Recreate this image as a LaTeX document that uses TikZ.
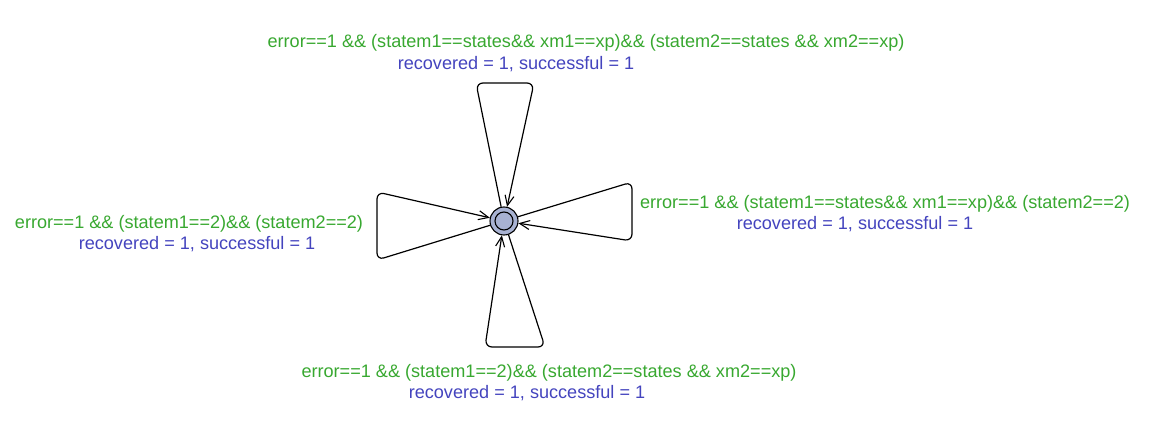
\documentclass[tikz,border=0pt]{standalone}
\usepackage{fontspec}
\setmainfont{Liberation Sans}
\usepackage{xcolor}
\definecolor{guard-green}{RGB}{56,168,48}
\definecolor{update-blue}{RGB}{68,68,190}
\definecolor{loc-fill}{RGB}{168,178,210}
\usetikzlibrary{arrows.meta}

\begin{document}
\begin{tikzpicture}[x=1pt, y=-1pt,
    loc circle/.style={circle, minimum size=28pt, inner sep=0pt, draw=black, line width=1.1pt, fill=loc-fill},
    loop edge/.style={draw=black, line width=1.2pt, rounded corners=7pt, -{Straight Barb[length=10pt,width=9pt,line width=1.1pt]}},
    guard label/.style={text=guard-green, font=\fontsize{18.1}{21}\selectfont, inner sep=0pt},
    update label/.style={text=update-blue, font=\fontsize{18.1}{21}\selectfont, inner sep=0pt}
]
\useasboundingbox (0,0) rectangle (1153,425);

% The one location, initial (double ring)
\node[loc circle] (loc) at (504,221) {};
\draw[line width=1.1pt] (loc.center) circle (9pt);

% Corner points of the four self loops
\coordinate (top1) at (476,83);
\coordinate (top2) at (534,83);
\coordinate (right1) at (632,182);
\coordinate (right2) at (632,241);
\coordinate (bot1) at (545,347);
\coordinate (bot2) at (485,347);
\coordinate (left1) at (377,260);
\coordinate (left2) at (377,192);

% Self loops
\draw[loop edge] (loc) -- (top1) -- (top2) -- (loc);
\draw[loop edge] (loc) -- (right1) -- (right2) -- (loc);
\draw[loop edge] (loc) -- (bot1) -- (bot2) -- (loc);
\draw[loop edge] (loc) -- (left1) -- (left2) -- (loc);

% Top loop labels
\node[guard label] (guardtop) at (586,43) {error==1 \&\& (statem1==states\&\& xm1==xp)\&\& (statem2==states \&\& xm2==xp)};
\node[update label] (updatetop) at (516,64) {recovered = 1, successful = 1};

% Right loop labels
\node[guard label] (guardright) at (885,204) {error==1 \&\& (statem1==states\&\& xm1==xp)\&\& (statem2==2)};
\node[update label] (updateright) at (855,224) {recovered = 1, successful = 1};

% Left loop labels
\node[guard label] (guardleft) at (189,224) {error==1 \&\& (statem1==2)\&\& (statem2==2)};
\node[update label] (updateleft) at (197,244) {recovered = 1, successful = 1};

% Bottom loop labels
\node[guard label] (guardbot) at (549,373) {error==1 \&\& (statem1==2)\&\& (statem2==states \&\& xm2==xp)};
\node[update label] (updatebot) at (527,393) {recovered = 1, successful = 1};

\end{tikzpicture}
\end{document}
